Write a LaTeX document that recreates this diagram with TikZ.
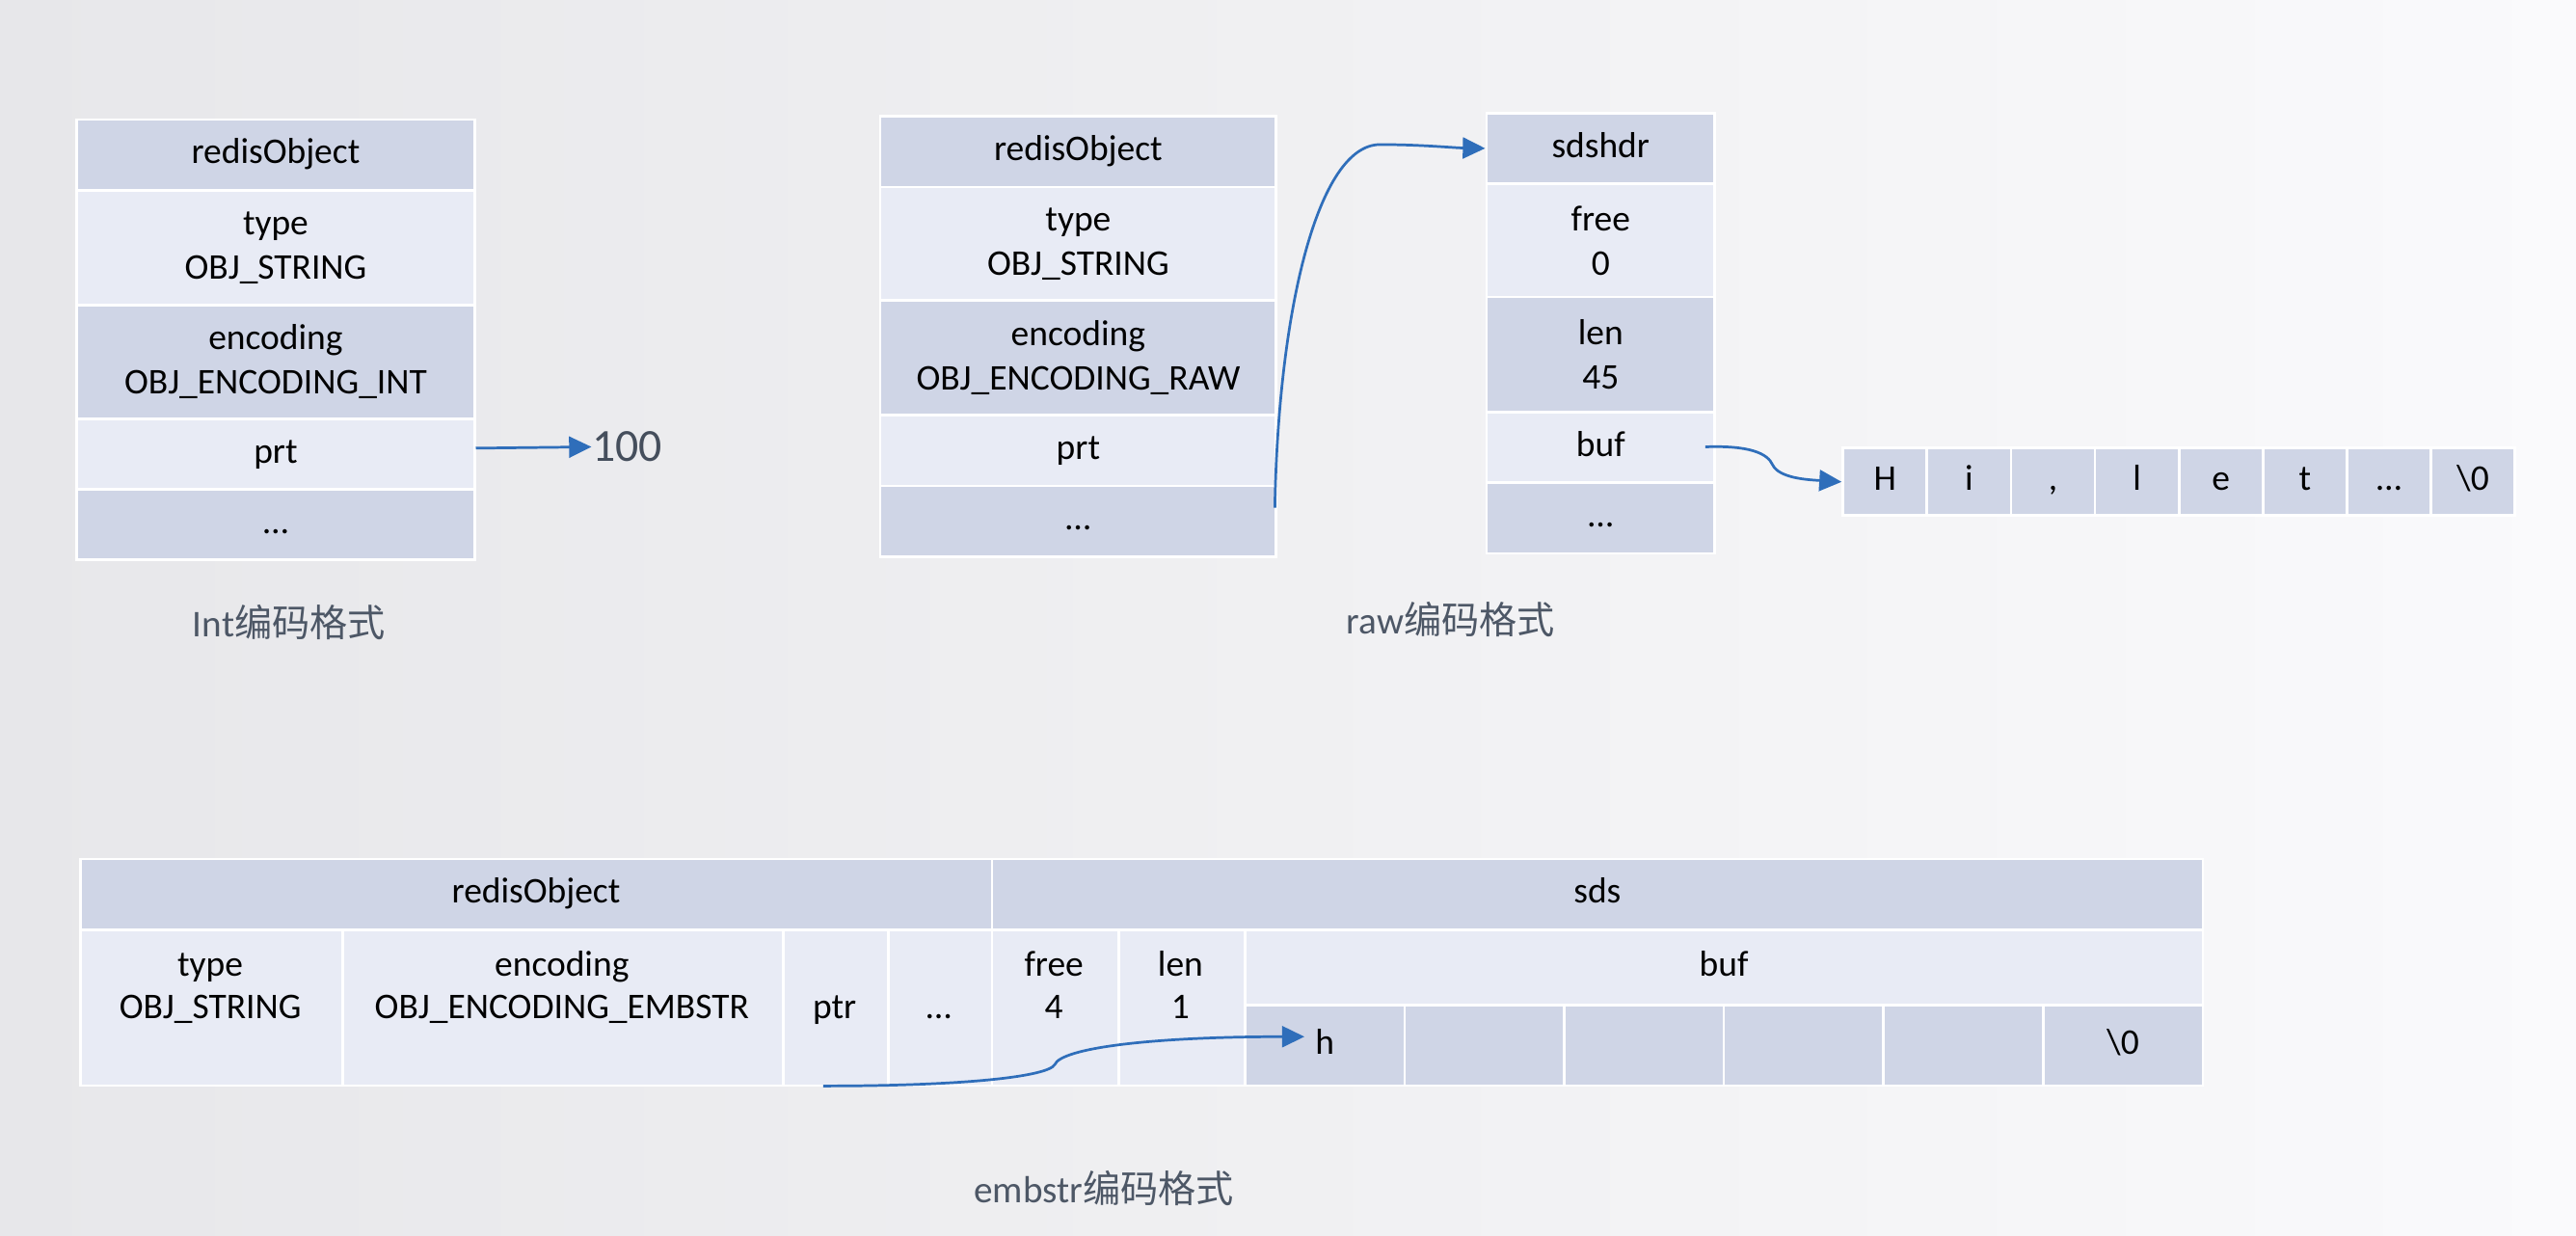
\documentclass[tikz,border=0pt]{standalone}
\usepackage{fontspec}
\setmainfont{Carlito}
\newfontfamily\cjk{Noto Sans CJK SC}
\usetikzlibrary{arrows.meta,calc}
\definecolor{bgL}{RGB}{231,231,234}
\definecolor{bgM}{RGB}{240,240,242}
\definecolor{bgR}{RGB}{250,250,252}
\definecolor{cdark}{RGB}{207,213,230}
\definecolor{clight}{RGB}{232,235,245}
\definecolor{arrowblue}{RGB}{47,110,186}
\definecolor{captiongray}{RGB}{77,87,102}
\tikzset{
  cellbase/.style={draw=white, line width=0.8pt, inner sep=0pt, align=center,
    font=\fontsize{11}{13.5}\selectfont, text=black},
  dk/.style={cellbase, fill=cdark},
  lt/.style={cellbase, fill=clight},
  st/.style={execute at begin node=\strut},
  ptrline/.style={draw=arrowblue, line width=0.8pt, -{Triangle[length=6.8pt,width=6.4pt]}},
  caption/.style={text=captiongray, font=\fontsize{11.5}{14}\selectfont, inner sep=0pt},
  celltext/.style={inner sep=0pt, anchor=base, font=\fontsize{11}{13.5}\selectfont, text=black},
}
\newcommand{\cell}[7]{\node[#2, anchor=north west, minimum width={(#5-#3)*0.5pt}, minimum height={(#6-#4)*0.5pt}] (#1) at (#3,#4) {#7};}
\begin{document}
\begin{tikzpicture}[x=0.5pt,y=-0.5pt]
\useasboundingbox (0,0) rectangle (1568,752.3);
\shade[left color=bgL, right color=bgR, middle color=bgM] (0,0) rectangle (1568,752.3);

% ---- Int encoding ----
\cell{iRO}{dk,st}{46}{72}{288}{115}{redisObject}
\cell{iType}{lt}{46}{115}{288}{185}{type\\OBJ\_STRING}
\cell{iEnc}{dk}{46}{185}{288}{254}{encoding\\OBJ\_ENCODING\_INT}
\cell{iPrt}{lt,st}{46}{254}{288}{297}{prt}
\cell{iDots}{dk,st}{46}{297}{288}{340}{…}
\node[anchor=west, inner sep=0pt, text=captiongray!90!black, font=\fontsize{14}{16}\selectfont] (n100) at (360,272) {100};
\node[caption] (capInt) at (176,379) {Int{\cjk 编码格式}};

% ---- raw encoding ----
\cell{rRO}{dk,st}{535}{70}{776}{113}{redisObject}
\cell{rType}{lt}{535}{113}{776}{182}{type\\OBJ\_STRING}
\cell{rEnc}{dk}{535}{182}{776}{252}{encoding\\OBJ\_ENCODING\_RAW}
\cell{rPrt}{lt,st}{535}{252}{776}{295}{prt}
\cell{rDots}{dk,st}{535}{295}{776}{338}{…}

\cell{sHdr}{dk,st}{904}{68}{1043}{111}{sdshdr}
\cell{sFree}{lt}{904}{111}{1043}{180}{free\\0}
\cell{sLen}{dk}{904}{180}{1043}{250}{len\\45}
\cell{sBuf}{lt,st}{904}{250}{1043}{293}{buf}
\cell{sDots}{dk,st}{904}{293}{1043}{336}{…}

\foreach \c [count=\i from 0] in {H,i,{,},l,e,t,…,\textbackslash0} {
  \pgfmathsetmacro\xa{1121+51.125*\i}
  \pgfmathsetmacro\xb{1121+51.125*(\i+1)}
  \cell{c\i}{dk,st}{\xa}{272}{\xb}{313}{\c}
}
\node[caption] (capRaw) at (883,377) {raw{\cjk 编码格式}};

% ---- embstr encoding ----
\cell{eRO}{dk,st}{48}{522}{603}{565}{redisObject}
\cell{eSds}{dk,st}{603}{522}{1340}{565}{sds}
\cell{eType}{lt}{48}{565}{208}{660}{}
\cell{eEnc}{lt}{208}{565}{476}{660}{}
\cell{ePtr}{lt}{476}{565}{540}{660}{}
\cell{eDots}{lt}{540}{565}{603}{660}{}
\cell{eFree}{lt}{603}{565}{680}{660}{}
\cell{eLen}{lt}{680}{565}{757}{660}{}
\cell{eBuf}{lt,st}{757}{565}{1340}{611}{buf}
\foreach \c [count=\i from 0] in {h,{},{},{},{},\textbackslash0} {
  \pgfmathsetmacro\xa{757+97.1667*\i}
  \pgfmathsetmacro\xb{757+97.1667*(\i+1)}
  \cell{b\i}{dk,st}{\xa}{611}{\xb}{660}{\c}
}
\node[celltext] (tType1) at (128,594) {type};
\node[celltext] (tType2) at (128,620) {OBJ\_STRING};
\node[celltext] (tEnc1) at (342,594) {encoding};
\node[celltext] (tEnc2) at (342,620) {OBJ\_ENCODING\_EMBSTR};
\node[celltext] (tPtr) at (508,620) {ptr};
\node[celltext] (tDots) at (571.5,620) {…};
\node[celltext] (tFree1) at (641.5,594) {free};
\node[celltext] (tFree2) at (641.5,620) {4};
\node[celltext] (tLen1) at (718.5,594) {len};
\node[celltext] (tLen2) at (718.5,620) {1};
\node[caption] (capEmb) at (672,723) {embstr{\cjk 编码格式}};

% ---- connectors ----
\draw[ptrline] ([yshift=1.75pt]iPrt.east) -- (n100.west);
\coordinate (rStart) at (776,309);
\draw[ptrline] (rStart) .. controls (778,190) and (802,88) .. (840,88)
  .. controls (865,88) and (885,90) .. (sHdr.west);
\coordinate (bStart) at (1038,272);
\draw[ptrline] (bStart) .. controls (1065,271) and (1076,276) .. (1079,283)
  .. controls (1083,291) and (1100,292) .. (c0.west);
\coordinate (ePstart) at (501,661);
\coordinate (ePend) at (794,631);
\draw[ptrline] (ePstart) .. controls (590,661) and (638,655) .. (642,648)
  .. controls (646,638) and (700,631) .. (ePend);
\end{tikzpicture}
\end{document}
